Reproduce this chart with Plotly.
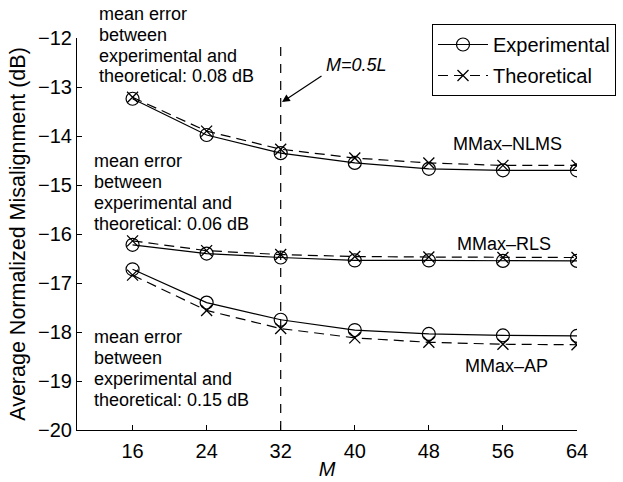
import plotly.graph_objects as go

M = [16, 24, 32, 40, 48, 56, 64]

nlms_exp = [-13.24, -13.98, -14.35, -14.55, -14.67, -14.70, -14.70]
nlms_theo = [-13.21, -13.90, -14.27, -14.45, -14.55, -14.60, -14.60]
rls_exp = [-16.22, -16.40, -16.48, -16.54, -16.54, -16.55, -16.55]
rls_theo = [-16.14, -16.34, -16.42, -16.46, -16.47, -16.48, -16.48]
ap_exp = [-16.72, -17.40, -17.75, -17.96, -18.04, -18.07, -18.08]
ap_theo = [-16.84, -17.56, -17.93, -18.12, -18.21, -18.25, -18.26]

series = [
    ("MMax–NLMS", nlms_exp, nlms_theo),
    ("MMax–RLS", rls_exp, rls_theo),
    ("MMax–AP", ap_exp, ap_theo),
]

FONT = "Liberation Sans, Arial, Helvetica, sans-serif"

fig = go.Figure()
for i, (name, ex, th) in enumerate(series):
    fig.add_trace(go.Scatter(
        x=M, y=ex, mode="lines+markers", name="Experimental",
        legendgroup="exp", showlegend=(i == 0),
        line=dict(color="black", width=1.2),
        marker=dict(symbol="circle-open", size=13, color="black", line=dict(width=1.2)),
    ))
    fig.add_trace(go.Scatter(
        x=M, y=th, mode="lines+markers", name="Theoretical",
        legendgroup="theo", showlegend=(i == 0),
        line=dict(color="black", width=1.2, dash="10px,6px"),
        marker=dict(symbol="x-thin-open", size=11, color="black", line=dict(width=1.3, color="black")),
    ))

# reference line at M = 32
fig.add_shape(type="line", xref="x", yref="y", x0=32, x1=32, y0=-20, y1=-12.1,
              line=dict(color="black", width=1.2, dash="9px,8px"))

L, R, T, B = 77, 577, 38, 430
W, H = R - L, B - T


def px(x):
    return (x - L) / W


def py(y):
    return (B - y) / H


ann_blocks = [
    (97, [14, 35, 56, 76], ["mean error", "between", "experimental and", "theoretical: 0.08 dB"]),
    (92, [161, 182, 203, 224], ["mean error", "between", "experimental and", "theoretical: 0.06 dB"]),
    (92, [337, 358, 379, 400], ["mean error", "between", "experimental and", "theoretical: 0.15 dB"]),
]
annotations = []
for x0, ys, lines in ann_blocks:
    for yy, t in zip(ys, lines):
        annotations.append(dict(
            x=px(x0), y=py(yy), xref="paper", yref="paper", text=t, showarrow=False,
            xanchor="left", yanchor="middle", font=dict(size=18, color="black", family=FONT)))

for t, xc, yc in [("MMax–NLMS", 507, 144), ("MMax–RLS", 504, 244), ("MMax–AP", 506, 366)]:
    annotations.append(dict(
        x=px(xc), y=py(yc), xref="paper", yref="paper", text=t, showarrow=False,
        xanchor="center", yanchor="middle", font=dict(size=18, color="black", family=FONT)))

annotations.append(dict(
    x=px(356), y=py(65), xref="paper", yref="paper", text="<i>M=0.5L</i>", showarrow=False,
    xanchor="center", yanchor="middle", font=dict(size=18, color="black", family=FONT)))
annotations.append(dict(
    x=px(282), y=py(102), xref="paper", yref="paper", text="", showarrow=True,
    ax=41, ay=-27, arrowhead=2, arrowsize=1.3, arrowwidth=1.2, arrowcolor="black", standoff=0))

fig.update_layout(
    width=623, height=482,
    margin=dict(l=L, r=623 - R, t=T, b=482 - B, pad=0, autoexpand=False),
    paper_bgcolor="white", plot_bgcolor="white",
    font=dict(family=FONT, size=20, color="black"),
    showlegend=True,
    legend=dict(x=px(432), y=py(24), xanchor="left", yanchor="top",
                bordercolor="black", borderwidth=1, bgcolor="white",
                font=dict(size=20, family=FONT, color="black"),
                traceorder="grouped", tracegroupgap=2, itemwidth=50,
                entrywidth=140, entrywidthmode="pixels"),
    annotations=annotations,
)
fig.update_xaxes(range=[10, 64], tickvals=M, ticks="inside", ticklen=5, tickcolor="black",
                 showline=True, linecolor="black", linewidth=1, showgrid=False, zeroline=False,
                 tickfont=dict(size=20), ticklabelstandoff=3, automargin=False,
                 title=dict(text="<i>M</i>", standoff=0, font=dict(size=20)))
fig.update_yaxes(range=[-20, -12], dtick=1, ticks="inside", ticklen=5, tickcolor="black",
                 showline=True, linecolor="black", linewidth=1, showgrid=False, zeroline=False,
                 tickfont=dict(size=20), automargin=False,
                 title=dict(text="Average Normalized Misalignment (dB)", standoff=6, font=dict(size=21.5)))

fig.write_html("out.html")
